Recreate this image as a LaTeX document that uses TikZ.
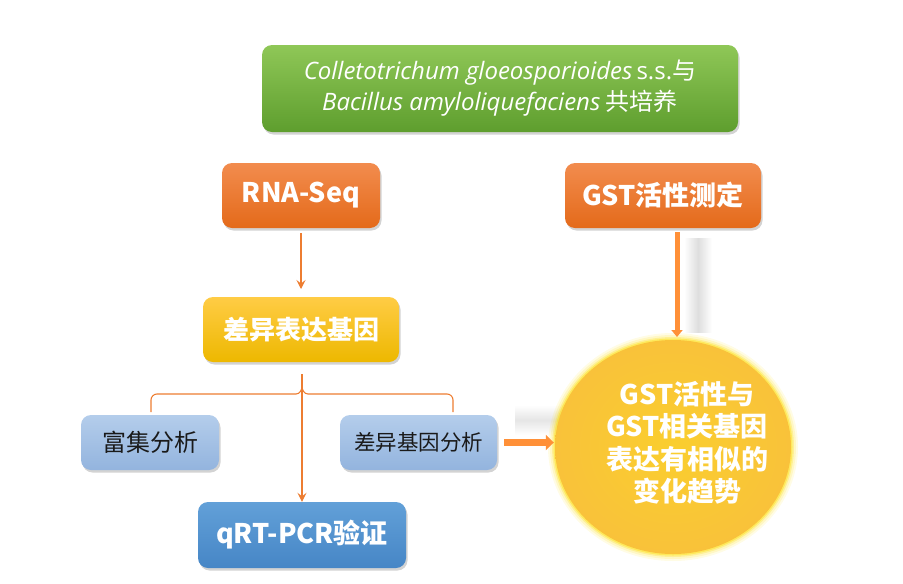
\documentclass[tikz,border=0pt]{standalone}
\usepackage{fontspec}
\setmainfont{Noto Sans CJK SC}
\newfontfamily\osans{Open Sans}
\usetikzlibrary{shapes.geometric,arrows.meta,shadows}
\definecolor{gtop}{HTML}{8FC757}
\definecolor{gbot}{HTML}{5E9E2E}
\definecolor{otop}{HTML}{F28C4E}
\definecolor{obot}{HTML}{E46A1A}
\definecolor{ytop}{HTML}{FFCC45}
\definecolor{ybot}{HTML}{EDB800}
\definecolor{btop}{HTML}{B4CDEB}
\definecolor{bbot}{HTML}{93B4DE}
\definecolor{qtop}{HTML}{62A0D8}
\definecolor{qbot}{HTML}{4686C6}
\definecolor{oline}{HTML}{ED7D31}
\definecolor{othick}{HTML}{FF9038}
\definecolor{ellc}{HTML}{F9C23A}
\definecolor{txtdark}{HTML}{1A1A1A}
\begin{document}
\begin{tikzpicture}[x=1pt,y=-1pt,
  box/.style={rectangle,rounded corners=10pt,inner sep=0pt,align=center,
    drop shadow={opacity=0.35,shadow xshift=1.5pt,shadow yshift=-2.5pt}},
  greenbox/.style={box,top color=gtop,bottom color=gbot,text=white,
    minimum width=476pt,minimum height=87pt,font=\fontsize{24}{31}\selectfont},
  orangebox/.style={box,top color=otop,bottom color=obot,text=white,
    minimum height=65pt,font=\bfseries\fontsize{27}{30}\selectfont},
  yellowbox/.style={box,top color=ytop,bottom color=ybot,text=white,
    minimum height=65pt,font=\bfseries\fontsize{26}{30}\selectfont},
  lightblue/.style={box,top color=btop,bottom color=bbot,text=txtdark,
    minimum height=55pt},
  qbox/.style={box,top color=qtop,bottom color=qbot,text=white,
    minimum height=66pt,font=\bfseries\fontsize{27}{30}\selectfont},
  thin/.style={draw=oline,line width=1.1pt},
  thinarrow/.style={thin,-{Stealth[length=9pt,width=9pt,inset=3.5pt]}},
  thickarrow/.style={draw=othick,-{Triangle[length=8pt,width=15pt]}},
]
\useasboundingbox (0,0) rectangle (903,584);
% soft gray shadows
\shade[left color=white,right color=white,middle color=black!13] (684,238) rectangle (712,332);
\shade[top color=white,bottom color=white,middle color=black!10] (515,405) rectangle (565,435);
% nodes
\node[greenbox] (title) at (500,88.5)
  {{\osans\itshape Colletotrichum gloeosporioides}\,{\osans s.s.}与\\
   {\osans\itshape Bacillus amyloliquefaciens} 共培养};
\node[orangebox,minimum width=158pt] (rna) at (301,195.5) {RNA-Seq};
\node[orangebox,minimum width=196pt] (gst) at (663,195.5) {GST活性测定};
\node[yellowbox,minimum width=196pt] (deg) at (301,329.5) {差异表达基因};
\node[lightblue,minimum width=138pt,font=\fontsize{24}{28}\selectfont] (enr) at (150,442.5) {富集分析};
\node[lightblue,minimum width=157pt,font=\fontsize{21.5}{25}\selectfont] (dga) at (418.5,442.5) {差异基因分析};
\node[qbox,minimum width=208pt] (qpcr) at (302,535) {qRT-PCR验证};
% ellipse with glow
\foreach \w/\o in {14/0.10,10/0.15,6/0.25,3/0.4}
  \draw[yellow!80!orange,line width=\w pt,opacity=\o] (673,447) ellipse (118pt and 107pt);
\node[ellipse,inner sep=0pt,minimum width=236pt,minimum height=214pt,
  inner color=ellc!80!yellow,outer color=ellc] (ell) at (673,447) {};
\node[text=white,align=center,inner sep=0pt,
  font=\bfseries\fontsize{27}{32.5}\selectfont] (elltext) at ([xshift=14pt,yshift=4pt]ell.center)
  {GST活性与\\GST相关基因\\表达有相似的\\变化趋势};
% connectors
\draw[thinarrow] (rna.south) ++(0,5) coordinate (r1) -- (deg.north|-0,289) coordinate (d1);
\coordinate (bt) at (302,374);
\coordinate (bl) at (151,412);
\coordinate (br) at (453,412);
\draw[thin] (bl) -- (151,400) to[out=90,in=180] (157,394) -- (296,394)
  to[out=0,in=-90] (302,386) to[out=-90,in=180] (308,394) -- (447,394)
  to[out=0,in=90] (453,400) -- (br);
\draw[thinarrow] (bt) -- (qpcr.north);
\draw[thickarrow,line width=7pt] ([xshift=7pt]dga.east) -- ([xshift=-1pt]ell.west|-dga.east);
\draw[thickarrow,line width=5pt,-{Triangle[length=7pt,width=11pt]}] ([yshift=-4pt]gst.south-|677,0) -- (677,337);
\end{tikzpicture}
\end{document}
